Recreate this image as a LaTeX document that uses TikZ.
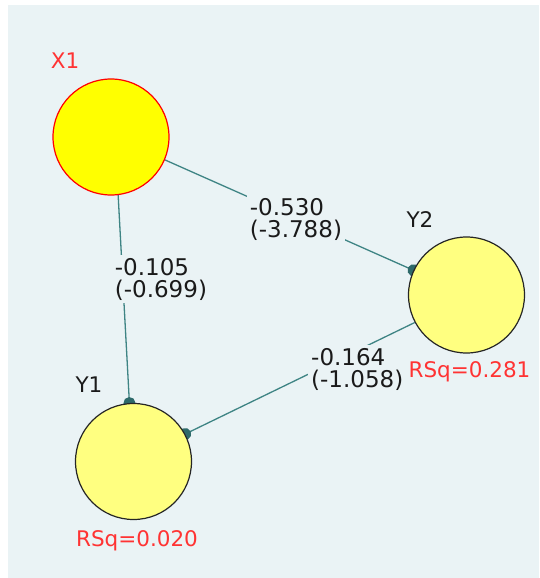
\documentclass[tikz,border=0pt]{standalone}
\usepackage{fontspec}
\setmainfont{DejaVu Sans}
\usetikzlibrary{arrows.meta}
\definecolor{bgc}{HTML}{EAF3F5}
\definecolor{edgec}{HTML}{3E8484}
\definecolor{tipc}{HTML}{2E6A6A}
\definecolor{rsq}{HTML}{FF3333}
\definecolor{txt}{HTML}{1A1A1A}
\definecolor{yel}{HTML}{FFFF00}
\definecolor{ltyel}{HTML}{FFFF80}
\pgfdeclarelayer{bgl}
\pgfdeclarelayer{edges}
\pgfsetlayers{bgl,edges,main}
\begin{document}
\begin{tikzpicture}[x=1pt,y=-1pt, font=\fontsize{21.5}{22}\selectfont,
 latent/.style={circle, minimum size=116pt, inner sep=0pt, line width=1.2pt},
 exo/.style={latent, draw=red, fill=yel},
 endo/.style={latent, draw=black!85, fill=ltyel},
 pathc/.style={draw=edgec, line width=1.3pt, -{Circle[length=12pt,color=tipc]}, shorten >=-6pt},
 coef/.style={fill=bgc, inner sep=3pt, align=left, anchor=base west, text=txt, font=\fontsize{23}{21.7}\selectfont},
 lab/.style={anchor=base, text=txt, inner sep=0pt},
 rsqlab/.style={anchor=base, text=rsq, inner sep=0pt}]
\useasboundingbox (0,0) rectangle (539,578);
\begin{pgfonlayer}{bgl}
\fill[white] (0,0) rectangle (539,578);
\fill[bgc] (8,5) rectangle (539,578);
\end{pgfonlayer}
% latent variables
\node[exo]  (X1) at (111,137) {};
\node[endo] (Y2) at (466.5,295) {};
\node[endo] (Y1) at (133.5,461.5) {};
% names
\node[lab, text=rsq] (nX1) at (65,69) {X1};
\node[lab] (nY2) at (420,227) {Y2};
\node[lab] (nY1) at (89,392) {Y1};
\node[rsqlab] (rY2) at (469.5,377) {RSq=0.281};
\node[rsqlab] (rY1) at (137,546) {RSq=0.020};
% paths
\begin{pgfonlayer}{edges}
\draw[pathc] (X1.-83) -- (Y1.94);
\draw[pathc] (X1.-23.7) -- (Y2.155.8);
\draw[pathc] (Y2.208) -- (Y1.28);
\end{pgfonlayer}
% coefficients
\node[coef] (c1) at (111.7,297) {-0.105\\(-0.699)};
\node[coef] (c2) at (246.7,237) {-0.530\\(-3.788)};
\node[coef] (c3) at (308,387) {-0.164\\(-1.058)};
\end{tikzpicture}
\end{document}
